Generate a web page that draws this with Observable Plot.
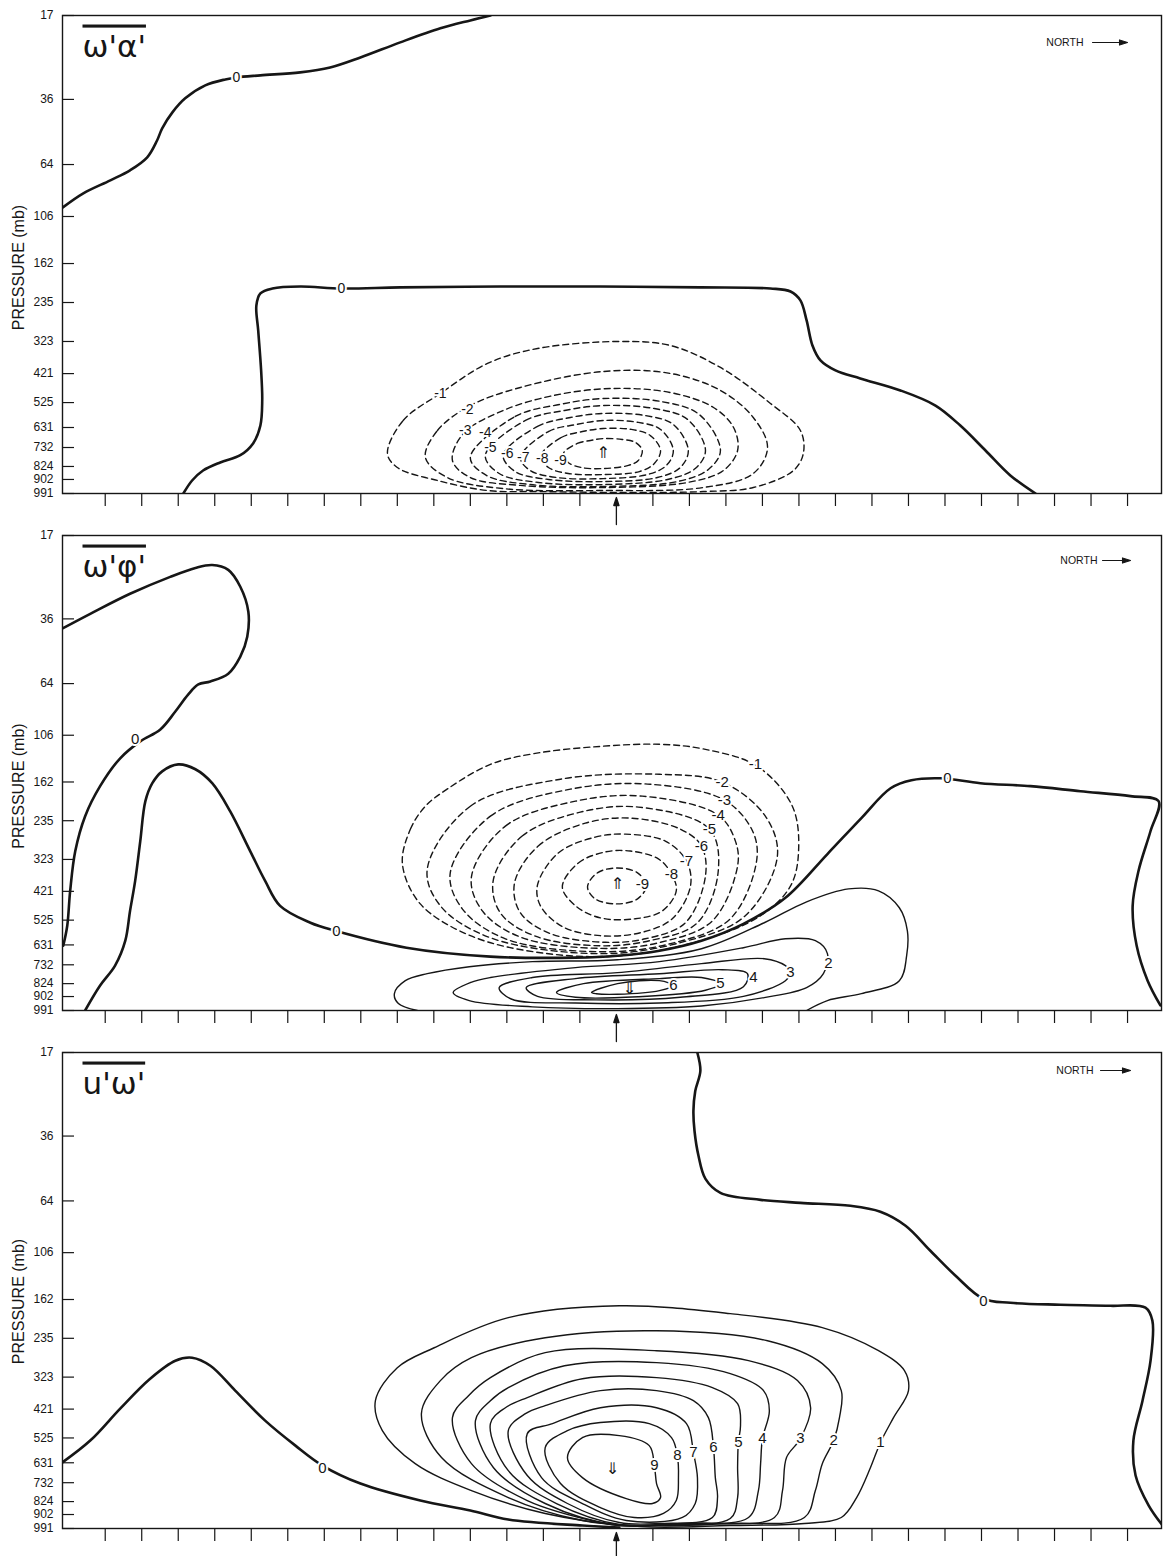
<!DOCTYPE html>
<html>
<head>
<meta charset="utf-8">
<script src="https://cdn.jsdelivr.net/npm/d3@7"></script>
<script src="https://cdn.jsdelivr.net/npm/@observablehq/plot@0.6"></script>
<style>
  html, body { margin: 0; padding: 0; background: #fff; }
  #chart svg { display: block; overflow: visible; }
</style>
</head>
<body>
<div id="chart"></div>
<script>
// ---------- axes ----------
const levels = [17, 36, 64, 106, 162, 235, 323, 421, 525, 631, 732, 824, 902, 991];
// approximate height (km) of each model pressure level (vertical coordinate of the figure)
const levelHeightKm = [27.42, 22.64, 18.93, 15.97, 13.29, 11.07, 8.85, 7.02, 5.37, 3.95, 2.81, 1.73, 0.99, 0.19];
// horizontal grid points (tick marks); 14 is the disturbance centre (arrow)
const gridTicks = [0,1,2,3,4,5,6,7,8,9,10,11,12,13,15,16,17,18,19,20,21,22,23,24,25,26,27,28];
const centerGrid = 14;
const xDomain = [-1.17, 28.93];
const yDomain = [0.19, 27.42];

// ---------- panel 1 : omega' alpha' ----------
const wa_zero_top = [[-1.16,16.49],[-0.60,17.29],[0.14,18.03],[0.68,18.60],[1.15,19.34],[1.42,20.30],[1.56,20.99],[1.84,21.90],[2.19,22.70],[2.74,23.44],[3.29,23.78],[3.59,23.89],[4.25,24.01],[5.34,24.18],[6.16,24.46],[6.99,25.03],[8.08,25.89],[9.18,26.69],[10.00,27.14],[10.55,27.42]];
const wa_zero_low = [[2.14,0.19],[2.38,0.93],[2.68,1.50],[3.15,1.96],[3.70,2.37],[4.05,3.04],[4.25,4.06],[4.30,5.49],[4.27,7.20],[4.19,9.48],[4.14,10.90],[4.25,11.59],[4.58,11.87],[5.34,11.98],[6.47,11.87],[8.08,11.93],[10.82,11.98],[13.56,11.98],[16.30,11.93],[18.22,11.87],[18.77,11.70],[19.04,11.19],[19.21,10.05],[19.37,8.62],[19.59,7.77],[20.00,7.20],[20.68,6.74],[21.78,6.06],[22.74,5.20],[23.42,4.06],[24.11,2.64],[24.79,1.22],[25.48,0.19]];
const wa_m1 = [[7.73,2.47],[8.16,4.35],[9.18,5.89],[10.47,7.60],[11.84,8.45],[14.11,8.85],[15.48,8.62],[16.85,7.37],[18.22,5.32],[19.04,3.78],[19.12,2.47],[18.85,1.50],[17.75,0.53],[16.38,0.30],[14.11,0.25],[11.92,0.30],[10.47,0.36],[9.10,0.93],[8.00,1.67]];
const wa_m2 = [[8.77,2.24],[9.10,3.78],[10.00,5.20],[11.37,6.23],[13.64,7.14],[15.48,7.03],[16.85,6.06],[17.75,4.52],[18.14,2.81],[17.75,1.33],[16.38,0.53],[13.64,0.36],[10.90,0.47],[9.37,1.10]];
const wa_m3 = [[9.51,2.07],[9.81,3.61],[10.90,4.92],[12.27,5.77],[13.84,6.17],[15.48,5.94],[16.66,5.09],[17.21,3.95],[17.32,2.64],[16.93,1.50],[15.95,0.82],[13.64,0.53],[11.37,0.65],[10.00,1.10]];
const wa_m4 = [[10.00,2.24],[11.23,4.58],[12.44,5.26],[13.64,5.60],[15.23,5.43],[16.27,4.69],[16.85,2.64],[16.52,1.56],[15.67,0.87],[13.64,0.59],[11.64,0.70],[10.44,1.22]];
const wa_m5 = [[10.41,2.36],[11.51,4.35],[12.58,4.92],[13.64,5.20],[15.04,5.03],[15.95,4.41],[16.44,2.64],[16.16,1.61],[15.40,0.99],[13.64,0.70],[11.86,0.82],[10.79,1.33]];
const wa_m6 = [[10.90,2.36],[11.84,4.01],[12.74,4.52],[13.64,4.75],[14.79,4.63],[15.56,4.12],[15.97,2.64],[15.75,1.67],[15.12,1.10],[13.64,0.87],[12.14,0.99],[11.23,1.44]];
const wa_m7 = [[11.37,2.24],[12.14,3.72],[12.90,4.12],[13.64,4.35],[14.60,4.24],[15.21,3.84],[15.56,2.64],[15.37,1.79],[14.85,1.27],[13.64,1.04],[12.38,1.10],[11.64,1.50]];
const wa_m8 = [[11.92,2.30],[12.49,3.38],[13.07,3.72],[13.64,3.89],[14.41,3.84],[14.93,3.49],[15.21,2.64],[15.04,1.90],[14.63,1.44],[13.64,1.27],[12.68,1.33],[12.14,1.67]];
const wa_m9 = [[12.55,2.47],[12.93,3.04],[13.29,3.21],[13.64,3.32],[14.16,3.27],[14.52,3.10],[14.71,2.64],[14.60,2.07],[14.33,1.79],[13.64,1.61],[13.04,1.67],[12.68,1.96]];
const wa_labels = [[3.59,23.89,"0"],[6.47,11.87,"0"],[9.18,5.89,"-1"],[9.92,4.98,"-2"],[9.86,3.78,"-3"],[10.41,3.67,"-4"],[10.55,2.81,"-5"],[11.01,2.47,"-6"],[11.45,2.24,"-7"],[11.97,2.18,"-8"],[12.47,2.07,"-9"]];
const wa_arrows = [[13.64,2.53,"⇑"]];

// ---------- panel 2 : omega' phi' ----------
const pf_zero_left = [[-1.18,22.08],[-0.41,22.93],[0.68,24.08],[1.78,25.05],[2.47,25.56],[2.93,25.73],[3.37,25.45],[3.70,24.48],[3.92,23.05],[3.89,21.62],[3.70,20.48],[3.37,19.50],[2.88,19.05],[2.55,18.88],[2.27,18.30],[1.92,17.33],[1.51,16.30],[0.96,15.62],[0.41,14.65],[-0.14,13.05],[-0.55,11.33],[-0.82,9.33],[-0.96,7.05],[-1.04,5.05],[-1.15,3.90]];
const pf_zero_main = [[-0.55,0.19],[-0.14,1.62],[0.27,2.76],[0.55,4.19],[0.68,5.90],[0.82,7.62],[0.96,9.90],[1.10,12.19],[1.29,13.22],[1.56,13.90],[2.00,14.30],[2.47,14.02],[2.93,13.22],[3.42,11.62],[3.97,9.33],[4.38,7.62],[4.79,6.19],[5.62,5.22],[6.30,4.76],[8.25,3.79],[10.55,3.28],[12.88,3.22],[14.03,3.33],[15.18,3.62],[16.33,4.19],[17.48,5.16],[18.63,6.65],[19.78,9.16],[20.71,11.22],[21.51,12.93],[22.08,13.39],[22.88,13.50],[23.97,13.22],[25.34,13.05],[26.71,12.76],[28.08,12.48],[28.85,12.19],[28.63,10.48],[28.30,8.19],[28.14,6.19],[28.25,3.90],[28.55,1.90],[28.90,0.48]];
const pf_m1 = [[8.14,8.59],[8.36,10.59],[8.77,11.90],[9.40,12.93],[10.55,14.30],[11.78,14.93],[13.56,15.33],[15.18,15.45],[16.44,15.16],[17.86,14.19],[18.82,11.90],[18.99,9.33],[18.77,7.33],[17.95,5.62],[16.30,4.19],[14.11,3.33],[11.92,3.50],[10.00,4.48],[8.63,6.30]];
const pf_m2 = [[8.82,8.30],[10.00,11.90],[12.47,13.45],[15.18,13.73],[16.90,13.28],[18.08,11.33],[18.41,9.05],[17.53,5.62],[15.75,4.08],[13.56,3.45],[10.55,4.36],[9.18,6.19]];
const pf_m3 = [[9.45,8.08],[10.55,11.33],[12.74,12.88],[14.93,13.16],[16.96,12.25],[17.73,10.48],[17.84,8.76],[17.12,5.45],[15.48,4.02],[13.56,3.56],[10.96,4.30],[9.78,6.02]];
const pf_m4 = [[10.03,7.85],[10.96,10.76],[12.88,12.19],[14.71,12.48],[16.79,11.39],[17.26,9.90],[17.32,8.48],[16.63,5.33],[15.21,4.10],[13.56,3.75],[11.37,4.40],[10.33,5.90]];
const pf_m5 = [[10.63,7.68],[11.42,10.19],[13.01,11.56],[14.60,11.85],[16.55,10.59],[16.79,8.19],[16.22,5.22],[14.93,4.20],[13.56,3.90],[11.78,4.45],[10.82,5.79]];
const pf_m6 = [[11.21,7.50],[11.86,9.62],[13.15,10.93],[14.38,11.22],[15.75,10.59],[16.33,9.62],[16.44,7.90],[15.89,5.22],[14.79,4.30],[13.70,4.10],[12.19,4.60],[11.37,5.79]];
const pf_m7 = [[11.84,7.39],[12.41,9.22],[13.42,10.13],[14.25,10.30],[15.34,9.90],[15.92,8.76],[16.03,7.33],[15.53,5.45],[14.66,4.65],[13.56,4.48],[12.52,5.00],[11.92,6.19]];
const pf_m8 = [[12.52,7.28],[12.96,8.65],[13.70,9.28],[14.38,9.33],[15.15,8.88],[15.51,8.02],[15.64,7.05],[15.26,5.90],[14.52,5.45],[13.56,5.50],[12.88,6.19]];
const pf_m9 = [[13.21,7.28],[13.48,8.08],[14.03,8.36],[14.58,8.08],[14.82,7.33],[14.58,6.59],[14.03,6.30],[13.42,6.59]];
const pf_p1 = [[8.55,0.19],[8.03,0.59],[7.92,1.16],[8.22,1.90],[8.82,2.30],[9.97,2.70],[11.70,2.99],[14.03,3.10],[16.33,3.73],[18.05,5.22],[19.21,6.42],[20.36,7.16],[21.18,7.05],[21.75,6.08],[21.97,4.76],[21.95,3.33],[21.75,1.90],[20.71,1.16],[19.78,0.76],[19.21,0.19]];
const pf_p2 = [[9.53,1.22],[10.00,1.79],[10.55,2.08],[12.88,2.65],[15.18,2.99],[17.48,3.79],[18.63,4.30],[19.45,4.19],[19.78,3.45],[19.67,2.30],[19.21,1.50],[18.05,0.93],[16.33,0.45],[14.03,0.30],[11.70,0.40],[9.97,0.76]];
const pf_p3 = [[10.79,1.50],[11.70,2.08],[14.03,2.36],[16.33,2.88],[18.05,3.16],[18.63,2.76],[18.77,2.36],[18.63,1.90],[17.48,1.00],[15.18,0.62],[12.88,0.62],[11.12,0.85]];
const pf_p4 = [[11.53,1.50],[12.88,2.02],[15.18,2.30],[16.90,2.53],[17.59,2.30],[17.48,1.55],[15.75,0.95],[13.45,0.80],[11.84,1.00]];
const pf_p5 = [[12.36,1.22],[13.10,1.73],[15.18,2.02],[16.33,2.08],[16.85,1.73],[16.44,1.35],[14.60,0.98],[12.88,0.95]];
const pf_p6 = [[13.32,1.22],[14.03,1.73],[15.18,1.90],[15.56,1.62],[15.18,1.33],[14.03,1.12],[13.45,1.15]];
const pf_labels = [[0.82,15.73,"0"],[6.33,4.76,"0"],[23.07,13.50,"0"],[17.81,14.30,"-1"],[16.90,13.28,"-2"],[16.96,12.25,"-3"],[16.79,11.39,"-4"],[16.55,10.59,"-5"],[16.33,9.62,"-6"],[15.92,8.76,"-7"],[15.51,8.02,"-8"],[14.71,7.45,"-9"],[19.81,2.88,"2"],[18.77,2.36,"3"],[17.75,2.08,"4"],[16.85,1.73,"5"],[15.56,1.62,"6"]];
const pf_arrows = [[14.03,7.45,"⇑"],[14.36,1.45,"⇓"]];

// ---------- panel 3 : u' omega' ----------
const uw_zero_top = [[16.22,27.39],[16.30,26.36],[16.16,25.22],[16.11,24.08],[16.14,22.93],[16.25,21.50],[16.44,20.19],[16.85,19.39],[17.95,18.99],[19.04,18.82],[20.41,18.65],[21.23,18.31],[21.92,17.51],[22.60,16.08],[23.29,14.65],[24.05,13.33],[24.79,13.10],[26.16,12.99],[27.53,12.93],[28.49,12.82],[28.68,12.08],[28.63,9.79],[28.41,7.50],[28.16,5.22],[28.22,3.22],[28.58,1.50],[28.96,0.36]];
const uw_zero_low = [[-1.18,3.96],[-0.41,5.22],[0.41,7.05],[1.23,8.76],[1.92,9.79],[2.38,9.96],[2.88,9.50],[3.56,8.08],[4.38,6.36],[5.21,4.93],[5.95,3.79],[6.99,2.76],[8.63,1.79],[10.00,1.22],[11.04,0.70],[13.07,0.36],[14.08,0.25]];
const uw_p1 = [[7.40,7.50],[8.00,9.39],[9.01,10.53],[11.04,12.25],[14.08,12.93],[17.12,12.48],[19.64,11.68],[21.18,10.36],[21.89,9.22],[22.00,8.08],[21.59,6.53],[21.23,5.10],[20.96,3.68],[20.58,1.96],[20.16,0.82],[19.15,0.48],[17.12,0.36],[14.66,0.30],[12.05,1.05],[10.03,2.36],[8.49,3.90],[7.59,5.79]];
const uw_p2 = [[8.66,6.76],[9.18,8.65],[10.03,9.96],[12.05,11.10],[15.10,11.50],[18.14,10.93],[19.64,9.62],[20.16,8.08],[20.11,6.53],[19.95,5.22],[19.64,3.90],[19.45,2.36],[19.15,0.82],[17.12,0.48],[14.58,0.36],[13.07,0.65],[11.04,1.96],[9.21,4.25]];
const uw_p3 = [[9.51,6.53],[9.95,7.79],[10.55,8.82],[12.05,10.25],[15.10,10.36],[17.62,9.79],[18.96,8.65],[19.32,7.10],[19.04,5.33],[18.66,4.25],[18.55,2.36],[18.33,0.82],[16.11,0.48],[14.08,0.36],[13.56,0.53],[11.56,1.79],[10.03,3.90]];
const uw_p4 = [[10.14,6.36],[10.55,7.50],[11.04,8.25],[12.58,9.50],[15.10,9.68],[17.12,9.05],[18.03,8.08],[18.19,6.93],[18.00,5.33],[17.95,3.90],[17.89,2.36],[17.62,0.82],[15.75,0.48],[14.08,0.36],[12.05,1.62],[10.63,3.68]];
const uw_p5 = [[10.55,6.19],[10.96,7.10],[11.56,7.68],[13.07,8.76],[15.10,8.82],[16.63,8.25],[17.32,7.33],[17.40,6.08],[17.34,5.10],[17.32,3.68],[17.32,1.96],[17.12,0.76],[15.21,0.42],[14.08,0.42],[12.36,1.62],[11.04,3.50]];
const uw_p6 = [[11.04,5.79],[11.51,6.76],[12.05,7.22],[13.56,8.08],[15.10,8.08],[16.11,7.50],[16.52,6.53],[16.66,4.82],[16.71,3.10],[16.77,1.96],[16.63,0.82],[15.21,0.48],[14.08,0.53],[12.66,1.62],[11.56,3.22]];
const uw_p7 = [[11.56,5.62],[12.25,6.19],[13.56,7.10],[15.10,7.10],[15.92,6.19],[16.11,4.53],[16.22,3.10],[16.16,1.62],[15.81,0.82],[14.27,0.65],[13.07,1.62],[11.95,3.10]];
const uw_p8 = [[12.05,4.82],[12.66,5.79],[13.56,6.25],[14.90,6.19],[15.51,5.39],[15.67,4.36],[15.70,3.10],[15.64,1.79],[15.29,1.05],[14.49,0.82],[13.56,1.39],[12.47,2.76]];
const uw_p9 = [[12.66,4.25],[13.07,5.39],[14.08,5.50],[14.90,4.93],[15.04,3.79],[15.10,2.76],[15.21,1.96],[14.99,1.62],[14.27,1.90],[13.07,3.10]];
const uw_labels = [[24.05,13.22,"0"],[5.95,3.62,"0"],[21.23,5.10,"1"],[19.95,5.22,"2"],[19.04,5.33,"3"],[18.00,5.33,"4"],[17.34,5.10,"5"],[16.66,4.82,"6"],[16.11,4.53,"7"],[15.67,4.36,"8"],[15.04,3.79,"9"]];
const uw_arrows = [[13.89,3.62,"⇓"]];

// ---------- drawing ----------
const W = 1164, ML = 62, MR = 3;
const plotW = W - ML - MR;
const INK = "#161616";

const arrowShape = {
  draw(context, l) {
    context.moveTo(0, 0);
    context.lineTo(0, -l + 5);
    context.moveTo(0, -l);
    context.lineTo(-2.6, -l + 8);
    context.lineTo(2.6, -l + 8);
    context.closePath();
  }
};

function makePanel(p) {
  const rows = (list, key) => list.flatMap((pts, k) => pts.map(([x, y]) => ({x, y, id: key + k})));
  const line = (list, key, opts) =>
    Plot.line(rows(list, key), {x: "x", y: "y", z: "id", stroke: INK, clip: true, strokeLinejoin: "round", ...opts});
  const svg = Plot.plot({
    width: W,
    height: p.height,
    marginLeft: ML,
    marginRight: MR,
    marginTop: p.marginTop,
    marginBottom: p.marginBottom,
    style: {fontFamily: "'Liberation Sans', Arial, sans-serif", fontSize: "12px", color: INK, background: "none", overflow: "visible"},
    x: {domain: xDomain},
    y: {domain: yDomain},
    marks: [
      line(p.zero, "z", {curve: "catmull-rom", strokeWidth: 2.6}),
      line(p.posOpen, "po", {curve: "catmull-rom", strokeWidth: 1.4}),
      line(p.posClosed, "pc", {curve: "catmull-rom-closed", strokeWidth: 1.4}),
      line(p.negClosed, "n", {curve: "catmull-rom-closed", strokeWidth: 1.4, strokeDasharray: "6,4"}),
      Plot.text(p.labels, {x: d => d[0], y: d => d[1], text: d => d[2], fontSize: p.labelSize, fill: INK, stroke: "white", strokeWidth: 4}),
      Plot.text(p.arrows, {x: d => d[0], y: d => d[1], text: d => d[2], fontSize: 16, fontFamily: "DejaVu Sans", fill: INK}),
      Plot.frame({stroke: INK, strokeWidth: 1.4}),
      Plot.tickY(levelHeightKm, {y: d => d, insetRight: plotW - 12, stroke: INK, strokeWidth: 1.2}),
      Plot.axisY({ticks: levelHeightKm, tickSize: 0, tickPadding: 9, tickFormat: d => String(levels[levelHeightKm.indexOf(d)]), label: null, fontSize: 12}),
      Plot.text(["PRESSURE (mb)"], {frameAnchor: "left", rotate: -90, dx: -44, dy: p.labelDy, fontSize: 16, textAnchor: "middle", lineAnchor: "middle", fill: INK}),
      Plot.axisX({ticks: gridTicks, tickSize: 13, tickFormat: () => "", label: null, strokeWidth: 1.2}),
      Plot.vector([centerGrid], {x: d => d, frameAnchor: "bottom", dy: 31, length: 27, anchor: "start", shape: arrowShape, stroke: INK, fill: INK, strokeWidth: 1.3}),
      Plot.text([p.title], {frameAnchor: "top-left", dx: 20, dy: 19, textAnchor: "start", lineAnchor: "top", fontSize: 31, fontFamily: "DejaVu Sans", fill: INK}),
      Plot.text(["NORTH"], {frameAnchor: "top-right", dx: p.northDx, dy: p.northDy, textAnchor: "end", lineAnchor: "middle", fontSize: 10.5, fill: INK}),
      Plot.vector([0], {frameAnchor: "top-right", dx: p.arrowDx, dy: p.northDy, rotate: 90, length: p.arrowLen, anchor: "end", shape: arrowShape, stroke: INK, fill: INK, strokeWidth: 1.1})
    ]
  });
  d3.select(svg).selectAll("text")
    .filter(function () { return this.textContent === p.title; })
    .style("text-decoration", "overline");
  return svg;
}

const chart = document.getElementById("chart");
chart.append(makePanel({
  title: "ω'α'", height: 520, marginTop: 15, marginBottom: 27, labelDy: 13, labelSize: 14,
  northDy: 27, northDx: -78, arrowDx: -34, arrowLen: 35,
  zero: [wa_zero_top, wa_zero_low], posOpen: [], posClosed: [],
  negClosed: [wa_m1, wa_m2, wa_m3, wa_m4, wa_m5, wa_m6, wa_m7, wa_m8, wa_m9],
  labels: wa_labels, arrows: wa_arrows
}));
chart.append(makePanel({
  title: "ω'φ'", height: 520, marginTop: 15, marginBottom: 30, labelDy: 13, labelSize: 15,
  northDy: 25, northDx: -64, arrowDx: -31, arrowLen: 28,
  zero: [pf_zero_left, pf_zero_main], posOpen: [pf_p1], posClosed: [pf_p2, pf_p3, pf_p4, pf_p5, pf_p6],
  negClosed: [pf_m1, pf_m2, pf_m3, pf_m4, pf_m5, pf_m6, pf_m7, pf_m8, pf_m9],
  labels: pf_labels, arrows: pf_arrows
}));
chart.append(makePanel({
  title: "u'ω'", height: 516, marginTop: 12, marginBottom: 28, labelDy: 11, labelSize: 15,
  northDy: 18, northDx: -68, arrowDx: -31, arrowLen: 30,
  zero: [uw_zero_top, uw_zero_low], posOpen: [],
  posClosed: [uw_p1, uw_p2, uw_p3, uw_p4, uw_p5, uw_p6, uw_p7, uw_p8, uw_p9],
  negClosed: [],
  labels: uw_labels, arrows: uw_arrows
}));
</script>
</body>
</html>
